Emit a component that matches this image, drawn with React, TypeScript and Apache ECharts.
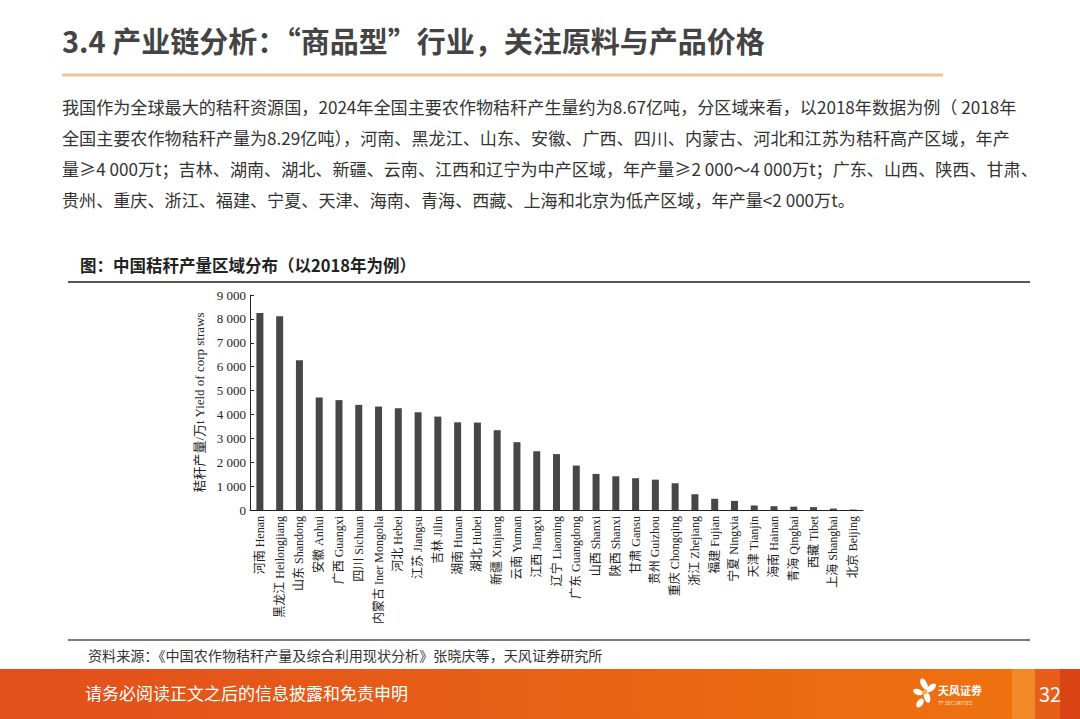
import React, { useEffect, useRef } from "react";
import * as echarts from "echarts";

const categories = [
  "河南 Henan", "黑龙江 Heilongjiang", "山东 Shandong", "安徽 Anhui", "广西 Guangxi",
  "四川 Sichuan", "内蒙古 Iner Mongolia", "河北 Hebei", "江苏 Jiangsu", "吉林 Jilin",
  "湖南 Hunan", "湖北 Hubei", "新疆 Xinjiang", "云南 Yunnan", "江西 Jiangxi",
  "辽宁 Liaoning", "广东 Guangdong", "山西 Shanxi", "陕西 Shanxi", "甘肃 Gansu",
  "贵州 Guizhou", "重庆 Chongqing", "浙江 Zhejiang", "福建 Fujian", "宁夏 Ningxia",
  "天津 Tianjin", "海南 Hainan", "青海 Qinghai", "西藏 Tibet", "上海 Shanghai", "北京 Beijing",
];

const strawYield = [
  8250, 8110, 6270, 4710, 4600,
  4400, 4330, 4260, 4090, 3910,
  3670, 3660, 3340, 2840, 2460,
  2340, 1860, 1510, 1410, 1330,
  1270, 1120, 660, 470, 380,
  190, 160, 140, 120, 60, 20,
];

const yTicks = { min: 0, max: 9000, interval: 1000 };

const titleText = "3.4 产业链分析：“商品型”行业，关注原料与产品价格";
const paragraphLines = [
  "我国作为全球最大的秸秆资源国，2024年全国主要农作物秸秆产生量约为8.67亿吨，分区域来看，以2018年数据为例（ 2018年",
  "全国主要农作物秸秆产量为8.29亿吨），河南、黑龙江、山东、安徽、广西、四川、内蒙古、河北和江苏为秸秆高产区域，年产",
  "量≥4 000万t；吉林、湖南、湖北、新疆、云南、江西和辽宁为中产区域，年产量≥2 000～4 000万t；广东、山西、陕西、甘肃、",
  "贵州、重庆、浙江、福建、宁夏、天津、海南、青海、西藏、上海和北京为低产区域，年产量<2 000万t。",
];
const captionText = "图：中国秸秆产量区域分布（以2018年为例）";
const sourceText = "资料来源：《中国农作物秸秆产量及综合利用现状分析》张晓庆等，天风证券研究所";
const footerText = "请务必阅读正文之后的信息披露和免责申明";
const pageNumber = "32";
const yAxisName = "秸秆产量/万t Yield of corp straws";

const SANS = "'Noto Sans CJK SC', 'Noto Sans', sans-serif";
const SERIF = "'Liberation Serif', 'DejaVu Serif', 'Noto Sans CJK SC', serif";

export default function App() {
  const ref = useRef<HTMLDivElement>(null);

  useEffect(() => {
    document.body.style.margin = "0";
    if (!ref.current) return;
    const chart = echarts.init(ref.current, undefined, { renderer: "svg" });

    const paraGraphics = paragraphLines.map((t, i) => ({
      type: "text",
      left: 62,
      top: 98 + i * 31,
      style: { text: t, fill: "#333333", font: `17.1px ${SANS}` },
      silent: true,
    }));

    const petal = (x: number, y: number, rx: number, ry: number, rot: number) => ({
      type: "ellipse",
      x, y, rotation: rot,
      shape: { cx: 0, cy: 0, rx, ry },
      style: { fill: "#ffffff" },
      silent: true,
    });

    chart.setOption({
      animation: false,
      grid: { left: 250, right: 217, top: 295, bottom: 209, containLabel: false },
      xAxis: {
        type: "category",
        data: categories,
        axisLine: { lineStyle: { color: "#222222", width: 1 } },
        axisTick: { inside: true, length: 4, lineStyle: { color: "#222222" } },
        axisLabel: {
          interval: 0,
          rotate: 90,
          margin: 6,
          color: "#222222",
          fontSize: 12,
          fontFamily: SERIF,
        },
      },
      yAxis: {
        type: "value",
        min: yTicks.min,
        max: yTicks.max,
        interval: yTicks.interval,
        name: yAxisName,
        nameLocation: "middle",
        nameRotate: 90,
        nameGap: 40,
        nameTextStyle: { color: "#222222", fontSize: 13, fontFamily: SERIF },
        axisLine: { show: true, lineStyle: { color: "#222222", width: 1 } },
        axisTick: { show: true, inside: true, length: 4, lineStyle: { color: "#222222" } },
        splitLine: { show: false },
        axisLabel: {
          margin: 4,
          color: "#222222",
          fontSize: 13,
          fontFamily: SERIF,
          formatter: (v: number) => {
            const s = String(v);
            return s.length > 3 ? s.slice(0, s.length - 3) + " " + s.slice(-3) : s;
          },
        },
      },
      series: [
        {
          type: "bar",
          data: strawYield,
          barWidth: 7,
          itemStyle: { color: "#474747" },
        },
      ],
      graphic: [
        {
          type: "text",
          left: 62,
          top: 25,
          style: { text: titleText, fill: "#444444", font: `bold 29px ${SANS}` },
          silent: true,
        },
        { type: "rect", shape: { x: 62, y: 73.5, width: 881, height: 3 }, style: { fill: "#efc39b" }, silent: true },
        ...paraGraphics,
        {
          type: "text",
          left: 80,
          top: 257,
          style: { text: captionText, fill: "#222222", font: `bold 16.5px ${SANS}` },
          silent: true,
        },
        { type: "rect", shape: { x: 68, y: 281, width: 962, height: 2 }, style: { fill: "#555555" }, silent: true },
        { type: "rect", shape: { x: 68, y: 639, width: 962, height: 2 }, style: { fill: "#7a7a7a" }, silent: true },
        {
          type: "text",
          left: 88,
          top: 648,
          style: { text: sourceText, fill: "#333333", font: `14.1px ${SANS}` },
          silent: true,
        },
        {
          type: "rect",
          shape: { x: 0, y: 669, width: 1080, height: 50 },
          style: {
            fill: new echarts.graphic.LinearGradient(0, 0, 1, 0, [
              { offset: 0, color: "#e14f1c" },
              { offset: 0.6, color: "#ea6414" },
              { offset: 1, color: "#ef7410" },
            ]),
          },
          silent: true,
        },
        { type: "rect", shape: { x: 1012, y: 669, width: 23, height: 50 }, style: { fill: "#f08a26" }, silent: true },
        { type: "rect", shape: { x: 1035, y: 669, width: 25, height: 50 }, style: { fill: "#e65e18" }, silent: true },
        { type: "rect", shape: { x: 1060, y: 669, width: 20, height: 50 }, style: { fill: "#d94316" }, silent: true },
        {
          type: "text",
          left: 85,
          top: 684,
          style: { text: footerText, fill: "#ffffff", font: `17px ${SANS}` },
          silent: true,
        },
        {
          type: "group",
          silent: true,
          children: [
            petal(924, 684, 3, 6, 0.5),
            petal(931, 688, 3, 6, -0.9),
            petal(918, 692, 3, 5, 1.2),
            petal(927, 697, 3, 6, 0.3),
            petal(920, 703, 3, 5, -0.6),
            { type: "circle", shape: { cx: 925, cy: 692, r: 2.5 }, style: { fill: "#f6b24a" } },
          ],
        },
        {
          type: "text",
          left: 938,
          top: 684,
          style: { text: "天风证券", fill: "#ffffff", font: `bold 11px ${SANS}` },
          silent: true,
        },
        {
          type: "text",
          left: 938,
          top: 700,
          style: { text: "TF SECURITIES", fill: "#ffe6cc", font: `5px ${SANS}` },
          silent: true,
        },
        {
          type: "text",
          left: 1039,
          top: 683,
          style: { text: pageNumber, fill: "#ffffff", font: `20px ${SANS}` },
          silent: true,
        },
      ],
    });

    return () => chart.dispose();
  }, []);

  return (
    <div
      ref={ref}
      style={{ position: "absolute", left: 0, top: 0, width: 1080, height: 719, background: "#ffffff" }}
    />
  );
}
